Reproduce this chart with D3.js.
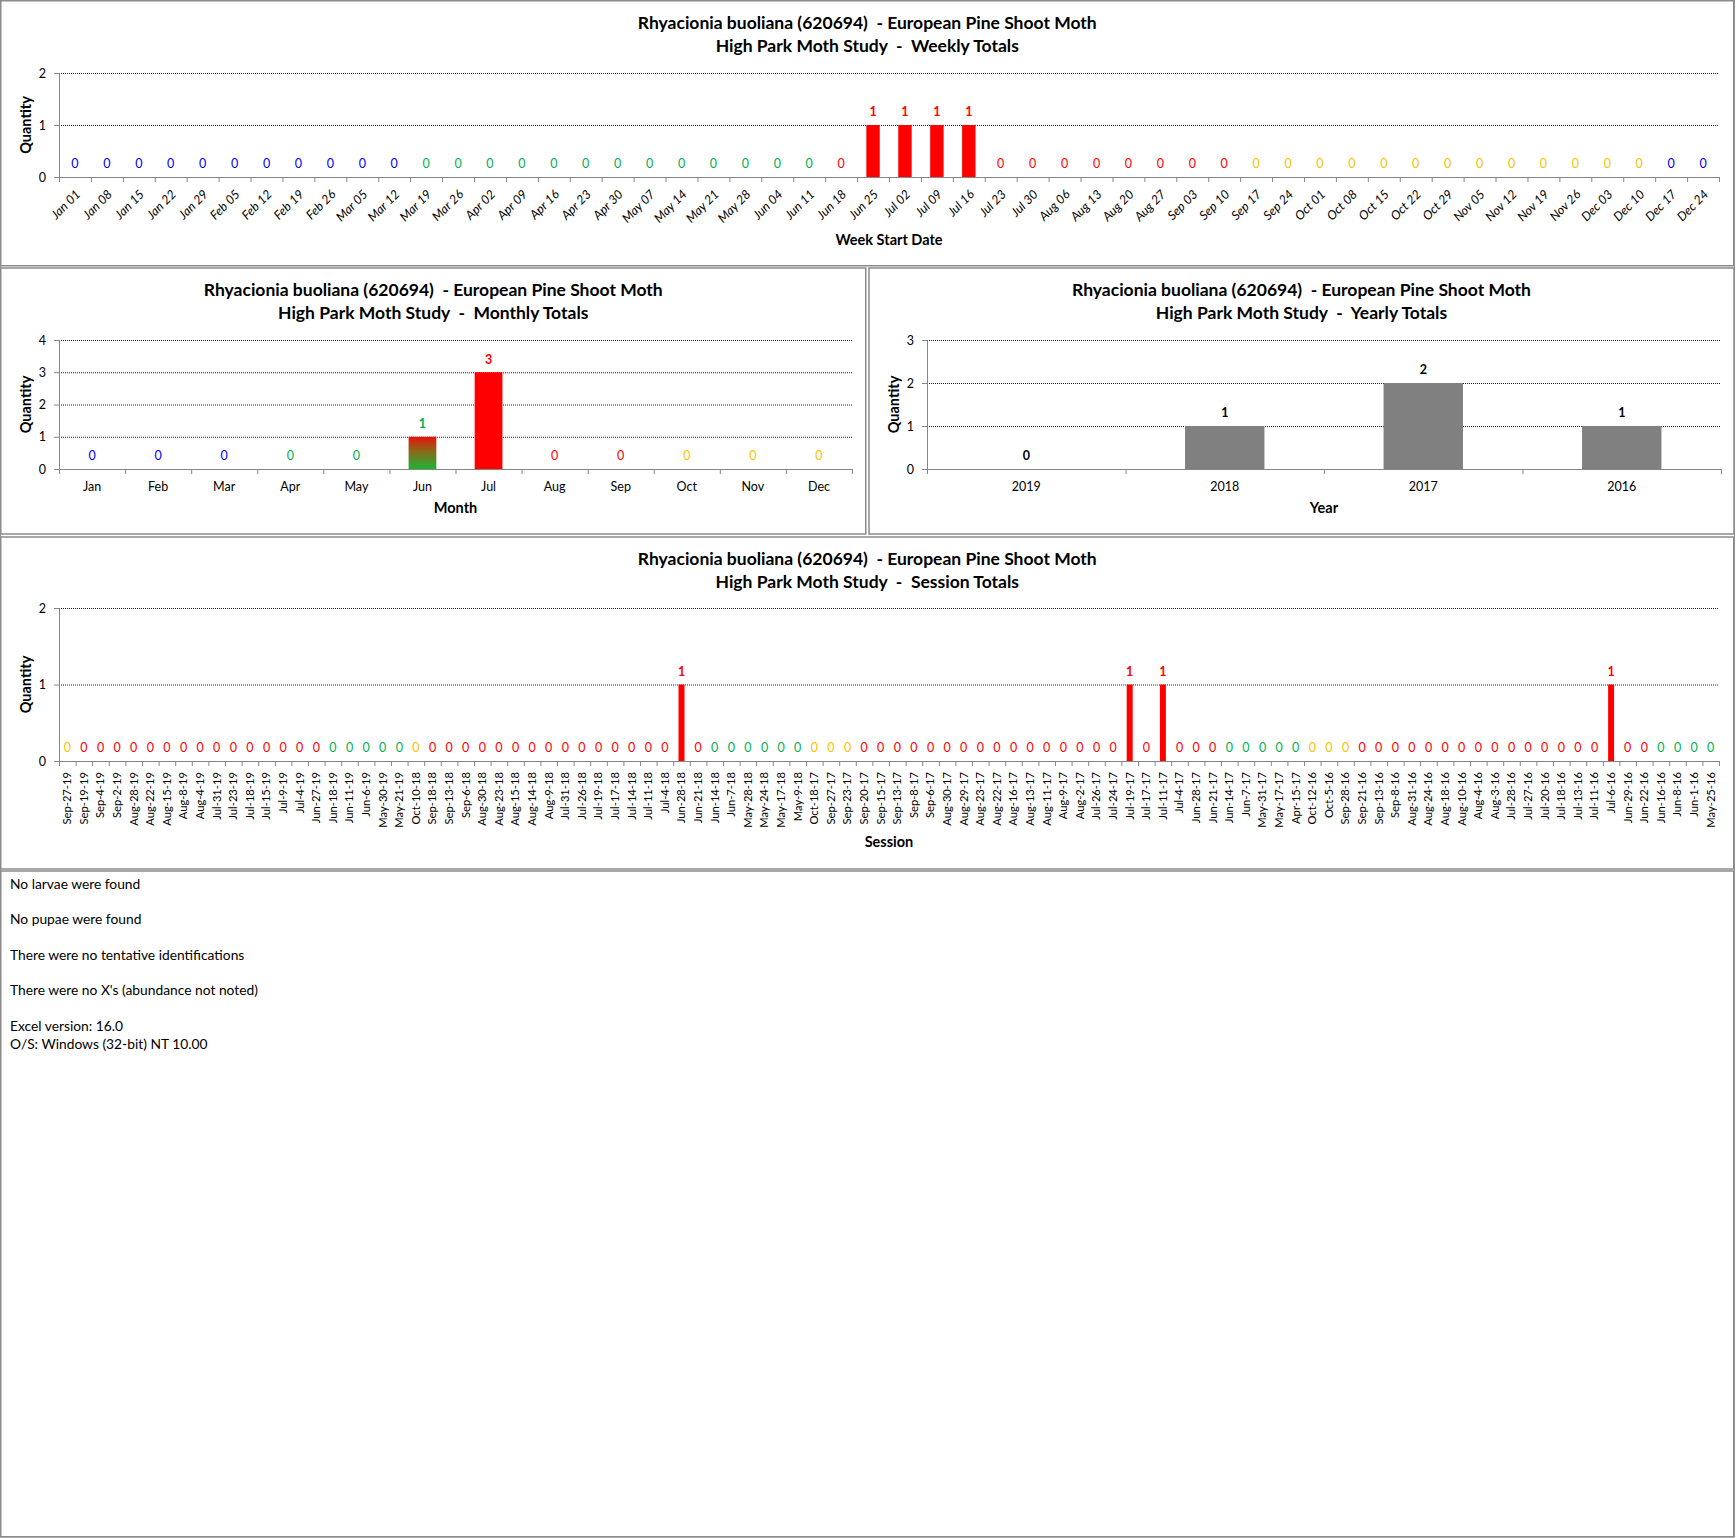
<!DOCTYPE html>
<html>
<head>
<meta charset="utf-8">
<script src="https://cdn.jsdelivr.net/npm/d3@7"></script>
<style>
body { margin: 0; background: #fff; }
text { font-family: Lato, "Open Sans", sans-serif; }
</style>
</head>
<body>
<svg id="chart" width="1736" height="1538"></svg>
<script>
// ---- data ----
var speciesTitle = "Rhyacionia buoliana (620694)  - European Pine Shoot Moth";

var weekLabels = ["Jan 01","Jan 08","Jan 15","Jan 22","Jan 29","Feb 05","Feb 12","Feb 19","Feb 26","Mar 05","Mar 12",
  "Mar 19","Mar 26","Apr 02","Apr 09","Apr 16","Apr 23","Apr 30","May 07","May 14","May 21","May 28","Jun 04","Jun 11",
  "Jun 18","Jun 25","Jul 02","Jul 09","Jul 16","Jul 23","Jul 30","Aug 06","Aug 13","Aug 20","Aug 27","Sep 03","Sep 10",
  "Sep 17","Sep 24","Oct 01","Oct 08","Oct 15","Oct 22","Oct 29","Nov 05","Nov 12","Nov 19","Nov 26","Dec 03","Dec 10",
  "Dec 17","Dec 24"];
var weekValues = [0,0,0,0,0,0,0,0,0,0,0,
  0,0,0,0,0,0,0,0,0,0,0,0,0,
  0,1,1,1,1,0,0,0,0,0,0,0,0,
  0,0,0,0,0,0,0,0,0,0,0,0,0,
  0,0];
var weekSeasons = ["W","W","W","W","W","W","W","W","W","W","W",
  "Sp","Sp","Sp","Sp","Sp","Sp","Sp","Sp","Sp","Sp","Sp","Sp","Sp",
  "Su","Su","Su","Su","Su","Su","Su","Su","Su","Su","Su","Su","Su",
  "F","F","F","F","F","F","F","F","F","F","F","F","F",
  "W","W"];

var monthLabels = ["Jan","Feb","Mar","Apr","May","Jun","Jul","Aug","Sep","Oct","Nov","Dec"];
var monthValues = [0,0,0,0,0,1,3,0,0,0,0,0];
var monthSeasons = ["W","W","W","Sp","Sp","Mix","Su","Su","Su","F","F","F"];

var yearLabels = ["2019","2018","2017","2016"];
var yearValues = [0,1,2,1];

var sessionLabels = [
  "Sep-27-19","Sep-19-19","Sep-4-19","Sep-2-19","Aug-28-19","Aug-22-19","Aug-15-19","Aug-8-19","Aug-4-19","Jul-31-19",
  "Jul-23-19","Jul-18-19","Jul-15-19","Jul-9-19","Jul-4-19","Jun-27-19","Jun-18-19","Jun-11-19","Jun-6-19","May-30-19",
  "May-21-19","Oct-10-18","Sep-18-18","Sep-13-18","Sep-6-18","Aug-30-18","Aug-23-18","Aug-15-18","Aug-14-18","Aug-9-18",
  "Jul-31-18","Jul-26-18","Jul-19-18","Jul-17-18","Jul-14-18","Jul-11-18","Jul-4-18","Jun-28-18","Jun-21-18","Jun-14-18",
  "Jun-7-18","May-28-18","May-24-18","May-17-18","May-9-18","Oct-18-17","Sep-27-17","Sep-23-17","Sep-20-17","Sep-15-17",
  "Sep-13-17","Sep-8-17","Sep-6-17","Aug-30-17","Aug-29-17","Aug-23-17","Aug-22-17","Aug-16-17","Aug-13-17","Aug-11-17",
  "Aug-9-17","Aug-2-17","Jul-26-17","Jul-24-17","Jul-19-17","Jul-17-17","Jul-11-17","Jul-4-17","Jun-28-17","Jun-21-17",
  "Jun-14-17","Jun-7-17","May-31-17","May-17-17","Apr-15-17","Oct-12-16","Oct-5-16","Sep-28-16","Sep-21-16","Sep-13-16",
  "Sep-8-16","Aug-31-16","Aug-24-16","Aug-18-16","Aug-10-16","Aug-4-16","Aug-3-16","Jul-28-16","Jul-27-16","Jul-20-16",
  "Jul-18-16","Jul-13-16","Jul-11-16","Jul-6-16","Jun-29-16","Jun-22-16","Jun-16-16","Jun-8-16","Jun-1-16","May-25-16"];
var sessionValues = [
  0,0,0,0,0,0,0,0,0,0, 0,0,0,0,0,0,0,0,0,0,
  0,0,0,0,0,0,0,0,0,0, 0,0,0,0,0,0,0,1,0,0,
  0,0,0,0,0,0,0,0,0,0, 0,0,0,0,0,0,0,0,0,0,
  0,0,0,0,1,0,1,0,0,0, 0,0,0,0,0,0,0,0,0,0,
  0,0,0,0,0,0,0,0,0,0, 0,0,0,1,0,0,0,0,0,0];
var sessionSeasons = [
  "F","Su","Su","Su","Su","Su","Su","Su","Su","Su", "Su","Su","Su","Su","Su","Su","Sp","Sp","Sp","Sp",
  "Sp","F","Su","Su","Su","Su","Su","Su","Su","Su", "Su","Su","Su","Su","Su","Su","Su","Su","Su","Sp",
  "Sp","Sp","Sp","Sp","Sp","F","F","F","Su","Su", "Su","Su","Su","Su","Su","Su","Su","Su","Su","Su",
  "Su","Su","Su","Su","Su","Su","Su","Su","Su","Su", "Sp","Sp","Sp","Sp","Sp","F","F","F","Su","Su",
  "Su","Su","Su","Su","Su","Su","Su","Su","Su","Su", "Su","Su","Su","Su","Su","Su","Sp","Sp","Sp","Sp"];

var notes = ["No larvae were found", "No pupae were found", "There were no tentative identifications",
  "There were no X's (abundance not noted)", "Excel version: 16.0", "O/S: Windows (32-bit) NT 10.00"];

// ---- colours ----
var seasonColor = d3.scaleOrdinal()
  .domain(["W","Sp","Su","F","Mix"])
  .range(["#0000FF","#00B050","#FF0000","#FFC000","#00B050"]);
var seasonFill = d3.scaleOrdinal()
  .domain(["W","Sp","Su","F","Mix"])
  .range(["#0000FF","#00B050","#FF0000","#FFC000","url(#junGrad)"]);

var svg = d3.select("#chart");

var defs = svg.append("defs");
var grad = defs.append("linearGradient").attr("id","junGrad")
  .attr("x1",0).attr("y1",0).attr("x2",0).attr("y2",1);
grad.append("stop").attr("offset","0%").attr("stop-color","#E8100C");
grad.append("stop").attr("offset","45%").attr("stop-color","#8A6A1A");
grad.append("stop").attr("offset","100%").attr("stop-color","#1DB436");

svg.append("rect").attr("x",0.5).attr("y",0.5).attr("width",1734).attr("height",1536)
  .attr("fill","#fff").attr("stroke","#9a9a9a");

function drawChart(o) {
  var n = o.labels.length;
  var g = svg.append("g");

  g.append("rect")
    .attr("x", o.box[0]).attr("y", o.box[1]).attr("width", o.box[2]).attr("height", o.box[3])
    .attr("fill", "#fff").attr("stroke", "#8a8a8a").attr("stroke-width", 1.5);

  var cx = o.box[0] + o.box[2] / 2;
  g.append("text").attr("x", cx).attr("y", o.box[1] + 28)
    .attr("text-anchor", "middle").attr("font-weight", "bold").attr("font-size", 17.5)
    .style("white-space", "pre").text(speciesTitle);
  g.append("text").attr("x", cx).attr("y", o.box[1] + 51)
    .attr("text-anchor", "middle").attr("font-weight", "bold").attr("font-size", 17.5)
    .style("white-space", "pre").text("High Park Moth Study  -  " + o.subtitle);

  var x = d3.scaleBand().domain(d3.range(n)).range([o.left, o.right]);
  var y = d3.scaleLinear().domain([0, o.yMax]).range([o.bottom, o.top]);
  var xb = d3.scaleLinear().domain([0, n]).range([o.left, o.right]);

  // dotted gridlines
  var grid = g.append("g").attr("transform", "translate(" + o.left + ",0)")
    .call(d3.axisLeft(y).tickValues(d3.range(1, o.yMax + 1)).tickSize(-(o.right - o.left)).tickFormat(""));
  grid.select(".domain").remove();
  grid.selectAll("line").attr("stroke", "#222").attr("stroke-dasharray", "1,1").attr("stroke-width", 1);

  // bars
  var pts = o.values.map(function(v, i) { return {v: v, i: i}; });
  var bw = x.bandwidth() * o.barRatio;
  g.selectAll(".bar").data(pts.filter(function(d) { return d.v > 0; }))
    .enter().append("rect")
    .attr("x", function(d) { return x(d.i) + (x.bandwidth() - bw) / 2; })
    .attr("y", function(d) { return y(d.v); })
    .attr("width", bw)
    .attr("height", function(d) { return y(0) - y(d.v); })
    .attr("fill", function(d) { return o.fill(d.i); });

  // y axis
  var ya = g.append("g").attr("transform", "translate(" + o.left + ",0)")
    .call(d3.axisLeft(y).tickValues(d3.range(0, o.yMax + 1)).tickSize(5).tickPadding(8).tickFormat(d3.format("d")));
  ya.select(".domain").attr("stroke", "#868686");
  ya.selectAll("line").attr("stroke", "#868686");
  ya.selectAll("text").attr("font-family", "Lato").attr("font-size", 12.5).attr("fill", "#000");

  // x tick marks between categories
  var xt = g.append("g").attr("transform", "translate(0," + o.bottom + ")")
    .call(d3.axisBottom(xb).tickValues(d3.range(n + 1)).tickSize(5).tickFormat(""));
  xt.select(".domain").attr("stroke", "#868686");
  xt.selectAll("line").attr("stroke", "#868686");

  // x labels
  var xa = g.append("g").attr("transform", "translate(0," + o.bottom + ")")
    .call(d3.axisBottom(x).tickSize(0).tickPadding(13).tickFormat(function(i) { return o.labels[i]; }));
  xa.select(".domain").remove();
  var lt = xa.selectAll("text").attr("fill", "#000").attr("font-family", "Lato").attr("font-size", 12.5);
  if (o.tickMode === "diag") {
    lt.attr("y", 0).attr("x", 0).attr("dy", "0.35em").attr("text-anchor", "end")
      .attr("font-style", "italic")
      .attr("transform", "translate(3,15) rotate(-45)");
  } else if (o.tickMode === "vert") {
    lt.attr("y", 0).attr("x", -11).attr("dy", "0.35em").attr("text-anchor", "end")
      .attr("font-family", "DejaVu Sans").attr("font-size", 11.2)
      .attr("transform", "rotate(-90)");
  }

  // value labels
  g.selectAll(".val").data(pts).enter().append("text")
    .attr("x", function(d) { return x(d.i) + x.bandwidth() / 2; })
    .attr("y", function(d) { return y(d.v) - 13; })
    .attr("dy", "0.35em")
    .attr("text-anchor", "middle")
    .attr("font-size", 12.5)
    .attr("font-weight", function(d) { return (o.boldAll || d.v > 0) ? "bold" : "normal"; })
    .attr("fill", function(d) { return o.labelColor(d.i); })
    .text(function(d) { return d.v; });

  // axis titles
  var midY = (o.top + o.bottom) / 2;
  g.append("text")
    .attr("transform", "translate(" + (o.box[0] + 30) + "," + midY + ") rotate(-90)")
    .attr("text-anchor", "middle").attr("font-family", "DejaVu Sans").attr("font-weight", "bold")
    .attr("font-size", 14.5).text("Quantity");
  g.append("text").attr("x", (o.left + o.right) / 2).attr("y", o.xTitleY)
    .attr("text-anchor", "middle").attr("font-weight", "bold").attr("font-size", 14.5)
    .text(o.xTitle);
}

drawChart({
  box: [0.75, 0.75, 1733, 265], subtitle: "Weekly Totals",
  left: 59, right: 1719, top: 73, bottom: 177, yMax: 2,
  labels: weekLabels, values: weekValues, barRatio: 0.42, tickMode: "diag",
  fill: function(i) { return seasonFill(weekSeasons[i]); },
  labelColor: function(i) { return seasonColor(weekSeasons[i]); },
  xTitle: "Week Start Date", xTitleY: 245
});

drawChart({
  box: [0.75, 268, 865, 266], subtitle: "Monthly Totals",
  left: 59, right: 852, top: 340, bottom: 469, yMax: 4,
  labels: monthLabels, values: monthValues, barRatio: 0.42, tickMode: "flat",
  fill: function(i) { return seasonFill(monthSeasons[i]); },
  labelColor: function(i) { return seasonColor(monthSeasons[i]); },
  xTitle: "Month", xTitleY: 513
});

drawChart({
  box: [869, 268, 865, 266], subtitle: "Yearly Totals",
  left: 927, right: 1721, top: 340, bottom: 469, yMax: 3,
  labels: yearLabels, values: yearValues, barRatio: 0.4, tickMode: "flat", boldAll: true,
  fill: function() { return "#808080"; },
  labelColor: function() { return "#000"; },
  xTitle: "Year", xTitleY: 513
});

drawChart({
  box: [0.75, 537, 1733, 332], subtitle: "Session Totals",
  left: 59, right: 1719, top: 608, bottom: 761, yMax: 2,
  labels: sessionLabels, values: sessionValues, barRatio: 0.36, tickMode: "vert",
  fill: function(i) { return seasonFill(sessionSeasons[i]); },
  labelColor: function(i) { return seasonColor(sessionSeasons[i]); },
  xTitle: "Session", xTitleY: 847
});

// notes under the charts
svg.append("rect").attr("x", 0.75).attr("y", 871).attr("width", 1733).attr("height", 666)
  .attr("fill", "none").attr("stroke", "#8a8a8a").attr("stroke-width", 1.5);
var noteY = [889, 924, 960, 995, 1031, 1049];
svg.selectAll(".note").data(notes).enter().append("text")
  .attr("x", 10).attr("y", function(d, i) { return noteY[i]; })
  .attr("font-size", 13.8).attr("fill", "#000")
  .text(function(d) { return d; });
</script>
</body>
</html>
